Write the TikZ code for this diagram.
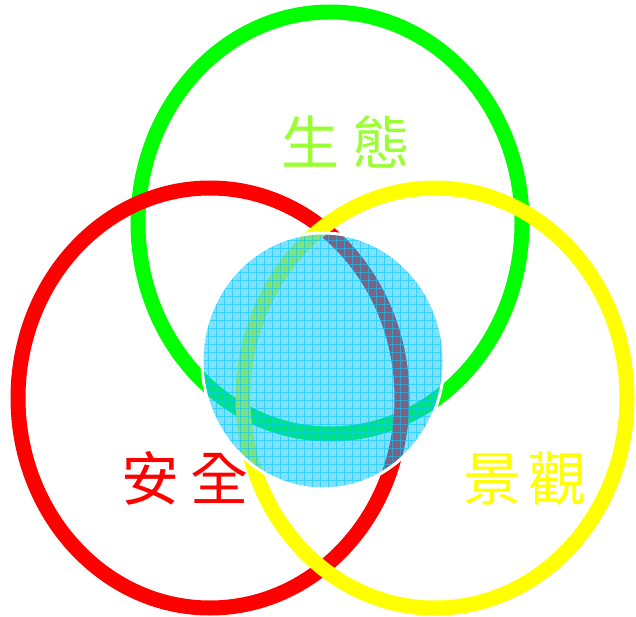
\documentclass[tikz,border=0pt]{standalone}
\usepackage{fontspec}
\usepackage{xcolor}
\usepackage{tikz}
\newfontfamily\cjkfont{Noto Sans CJK TC}
\definecolor{ringgreen}{HTML}{00FF00}
\definecolor{ringred}{HTML}{FF0000}
\definecolor{ringyellow}{HTML}{FFFF00}
\definecolor{globecyan}{HTML}{00C4FF}
\definecolor{gridcyan}{HTML}{00C8FF}
\definecolor{ecolabel}{HTML}{99FF33}
\tikzset{
  ringline/.style={line width=15pt},
  ecoring/.style={ringline,draw=ringgreen},
  safering/.style={ringline,draw=ringred},
  viewring/.style={ringline,draw=ringyellow},
  globefill/.style={fill=globecyan,fill opacity=0.5},
  globegrid/.style={draw=gridcyan,line width=0.6pt,opacity=0.6},
  globeedge/.style={draw=white,line width=3pt},
  ringlabel/.style={font=\cjkfont\fontsize{58}{58}\selectfont,inner sep=0pt}
}
\begin{document}
\begin{tikzpicture}[x=1pt,y=-1pt]
\useasboundingbox (0,0) rectangle (636,617);
\coordinate (eco) at (330,223);
\coordinate (safe) at (210,398);
\coordinate (view) at (435,398);
\coordinate (globe) at (323,361);
% three rings
\draw[ecoring] (eco) ellipse [x radius=192pt,y radius=211pt];
\draw[safering] (safe) ellipse [x radius=192pt,y radius=210pt];
\draw[viewring] (view) ellipse [x radius=192pt,y radius=210pt];
% gridded globe in the middle
\begin{scope}
\clip (globe) ellipse [x radius=121pt,y radius=128pt];
\fill[globefill] (globe) ellipse [x radius=121pt,y radius=128pt];
\draw[globegrid,step=8pt] (195,225) grid (455,500);
\end{scope}
\draw[globeedge] (globe) ellipse [x radius=121pt,y radius=128pt];
% labels
\node[ringlabel,text=ecolabel] (shengtai) at (346,142) {生\hspace{14pt}態};
\node[ringlabel,text=ringred] (anquan) at (185,478) {安\hspace{12pt}全};
\node[ringlabel,text=ringyellow] (jingguan) at (525,479) {景\hspace{8pt}觀};
\end{tikzpicture}
\end{document}
